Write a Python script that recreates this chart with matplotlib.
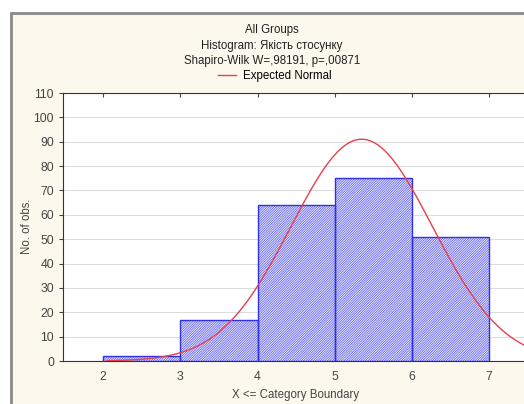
import matplotlib.pyplot as plt
import matplotlib.patches as mpatches
import numpy as np

plt.rcParams['font.family'] = ['Liberation Sans', 'DejaVu Sans']
plt.rcParams['hatch.linewidth'] = 0.5

# DATA
bin_left = [2, 3, 4, 5, 6]
counts = [2, 17, 64, 75, 51]
fit_mean = 5.35
fit_sd = 0.916
x_ticks = [2, 3, 4, 5, 6, 7]
y_ticks = list(range(0, 111, 10))

n_total = sum(counts)

fig = plt.figure(figsize=(5.24, 4.04), dpi=100)
fig.patch.set_facecolor('white')

# cream panel with grey frame, like the statistica window
panel = mpatches.Rectangle((11 / 524, -0.1), 1.2, (404 - 13) / 404 + 0.1,
                           transform=fig.transFigure, facecolor='#fdf8ee',
                           edgecolor='#8a8a8a', linewidth=2, zorder=-10)
fig.patches.append(panel)

ax = fig.add_axes([63 / 524, (404 - 361) / 404, 1 - 63 / 524 + 0.01, (361 - 93) / 404])
ax.set_facecolor('white')

# hatch layer (hatch takes the edge colour) then the outline on top
ax.bar(bin_left, counts, width=1, align='edge', facecolor='#e4e4fc',
       edgecolor='#5c5cee', hatch='/' * 14, linewidth=0, zorder=3)
ax.bar(bin_left, counts, width=1, align='edge', facecolor='none',
       edgecolor='#3030e6', linewidth=1, zorder=3)

xs = np.linspace(2.05, 7.6, 400)
ys = n_total / (fit_sd * np.sqrt(2 * np.pi)) * np.exp(-0.5 * ((xs - fit_mean) / fit_sd) ** 2)
line, = ax.plot(xs, ys, color='#e8404a', linewidth=1, zorder=4, label='Expected Normal')

ax.set_xlim(1.48, 7.52)
ax.set_ylim(0, 110)
ax.set_xticks(x_ticks)
ax.set_yticks(y_ticks)
ax.tick_params(axis='both', labelsize=8.8, colors='#444444', length=3)
ax.tick_params(axis='x', top=True, direction='in', length=3, pad=7)
ax.grid(axis='y', color='#dddddd', linewidth=0.8, zorder=0)
for side in ['left', 'bottom', 'top']:
    ax.spines[side].set_color('#333333')
ax.spines['right'].set_visible(False)

fig.text(27 / 524, 1 - 226 / 404, 'No. of obs.', fontsize=8.3, color='#444444',
         rotation=90, ha='center', va='center')
fig.text(296 / 524, 1 - 395 / 404, 'X <= Category Boundary', fontsize=8.3,
         color='#444444', ha='center', va='center')

fig.text(272 / 524, 1 - 30 / 404, 'All Groups', fontsize=8.3, ha='center', va='center', color='#222222')
fig.text(272 / 524, 1 - 46 / 404, 'Histogram: Якість стосунку', fontsize=8.3, ha='center', va='center', color='#222222')
fig.text(272 / 524, 1 - 61 / 404, 'Shapiro-Wilk W=,98191, p=,00871', fontsize=8.3, ha='center', va='center', color='#222222')
fig.legend(handles=[line], loc='center', bbox_to_anchor=(275 / 524, 1 - 76 / 404),
           frameon=False, fontsize=8.3, handlelength=1.6, borderpad=0, handletextpad=0.6)

fig.savefig('out.png', dpi=100)
